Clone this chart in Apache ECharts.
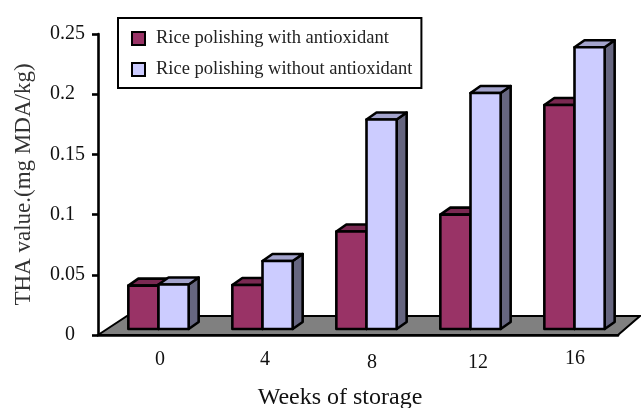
<!DOCTYPE html>
<html><head><meta charset="utf-8">
<style>html,body{margin:0;padding:0;background:#fff}#c{width:641px;height:408px}</style>
<script src="https://cdn.jsdelivr.net/npm/echarts@6/dist/echarts.min.js"></script>
</head><body><div id="c"></div>
<script>
const categories = ['0','4','8','12','16'];
const withAntioxidant = [0.036,0.0365,0.081,0.095,0.186];
const withoutAntioxidant = [0.037,0.0565,0.174,0.196,0.234];
const yTicks = ['0','0.05','0.1','0.15','0.2','0.25'];
const FONT = '"Liberation Serif","Times New Roman",serif';
const chart = echarts.init(document.getElementById('c'), null, {renderer:'canvas'});

function bar(colors, side){
  return function(params, api){
    const cat = api.value(0), v = api.value(1);
    const top = api.coord([cat, v]), base = api.coord([cat, 0]);
    const w = api.size([1,0])[0]*0.29;
    const cx = top[0] + 8.5;
    const x0 = side < 0 ? cx - w : cx, x1 = x0 + w;
    const yT = top[1] - 6, yB = base[1] - 6;
    const dx = 10, dy = 7;
    const line = {stroke:'#000', lineWidth:2.6, lineJoin:'round'};
    return {type:'group', children:[
      {type:'polygon', shape:{points:[[x1,yB],[x1+dx,yB-dy],[x1+dx,yT-dy],[x1,yT]]}, style:{fill:colors[2], ...line}},
      {type:'polygon', shape:{points:[[x0,yT],[x0+dx,yT-dy],[x1+dx,yT-dy],[x1,yT]]}, style:{fill:colors[1], ...line}},
      {type:'rect', shape:{x:x0,y:yT,width:w,height:yB-yT}, style:{fill:colors[0], ...line}}
    ]};
  };
}
function floor(params, api){
  const s = api.size([1,0])[0];
  const a = api.coord([0,0]), b = api.coord([categories.length-1,0]);
  const x0 = a[0]-s/2, x1 = b[0]+s/2, y = a[1];
  return {type:'polygon', shape:{points:[[x0,y],[x0+29,y-19],[x1+22,y-19],[x1,y]]},
    style:{fill:'#808080', stroke:'#000', lineWidth:2}};
}
const xShift = {'0':[20,3],'4':[22,3],'8':[28,6],'12':[32,6],'16':[18,2]};
const rich = {};
Object.keys(xShift).forEach(k=>{rich['c'+k]={fontFamily:FONT,fontSize:20,color:'#111',padding:[xShift[k][1],0,0,xShift[k][0]]};});
const lineStyle = {color:'#000',width:2.6};
chart.setOption({
  animation:false,
  backgroundColor:'#fff',
  textStyle:{fontFamily:FONT},
  legend:{
    data:['Rice polishing with antioxidant','Rice polishing without antioxidant'],
    orient:'vertical', left:118, top:18, icon:'rect',
    itemWidth:13, itemHeight:13, itemGap:12, padding:[11,9,9,13],
    borderColor:'#000', borderWidth:2, backgroundColor:'#fff',
    textStyle:{fontFamily:FONT,fontSize:18.5,color:'#222',padding:[0,0,0,6]}, selectedMode:false
  },
  grid:{left:98,right:23,top:34,bottom:73,outerBoundsMode:'none'},
  xAxis:{type:'category',data:categories,
    name:'Weeks of storage',nameLocation:'middle',nameGap:51,
    nameTextStyle:{fontFamily:FONT,fontSize:24,color:'#111',padding:[0,36,0,0]},
    axisLine:{lineStyle},axisTick:{lineStyle,length:6,alignWithLabel:false},
    axisLabel:{interval:0,margin:12,formatter:v=>'{c'+v+'|'+v+'}',rich}},
  yAxis:{type:'value',min:0,max:0.25,interval:0.05,
    name:'THA value.(mg MDA/kg)',nameLocation:'middle',nameGap:63,
    nameTextStyle:{fontFamily:FONT,fontSize:23,color:'#333'},
    splitLine:{show:false},
    axisLine:{show:true,lineStyle},axisTick:{show:true,lineStyle,length:6},
    axisLabel:{margin:48,align:'left',fontFamily:FONT,fontSize:20,color:'#111',
      formatter:v=>{const i=Math.round(v/0.05);return i===0?'{z|0}':yTicks[i];},
      rich:{z:{fontFamily:FONT,fontSize:20,color:'#111',padding:[0,0,0,15]}}}},
  series:[
    {type:'custom',name:'Floor',data:[[0,0]],renderItem:floor,silent:true,z:1},
    {type:'custom',name:'Rice polishing with antioxidant',
      data:withAntioxidant.map((v,i)=>[i,v]),encode:{x:0,y:1},z:2,
      itemStyle:{color:'#993366',borderColor:'#000',borderWidth:2},
      renderItem:bar(['#993366','#7A2952','#5C1F3D'],-1)},
    {type:'custom',name:'Rice polishing without antioxidant',
      data:withoutAntioxidant.map((v,i)=>[i,v]),encode:{x:0,y:1},z:3,
      itemStyle:{color:'#CCCCFF',borderColor:'#000',borderWidth:2},
      renderItem:bar(['#CCCCFF','#A3A3CC','#666680'],1)}
  ]
});
</script></body></html>
